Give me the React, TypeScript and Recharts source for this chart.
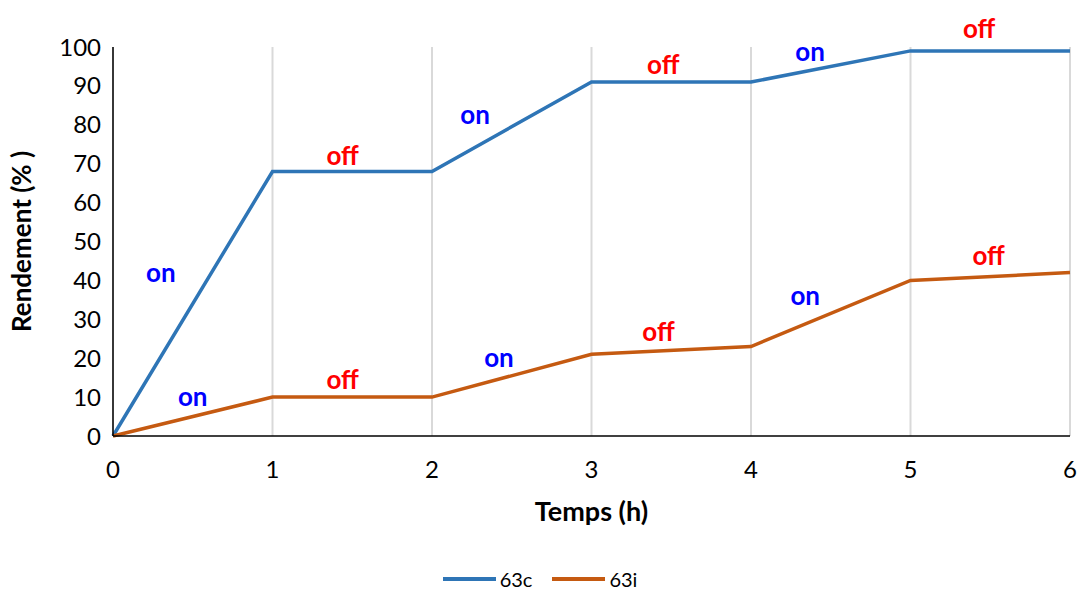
import { LineChart, Line, XAxis, YAxis, CartesianGrid, Legend, ReferenceDot } from "recharts";

const hours = [0, 1, 2, 3, 4, 5, 6];
const yield63c = [0, 68, 68, 91, 91, 99, 99];
const yield63i = [0, 10, 10, 21, 23, 40, 42];
const yTicks = [0, 10, 20, 30, 40, 50, 60, 70, 80, 90, 100];

// on/off annotations, in data coordinates
const notesX = [0.3, 1.44, 2.27, 3.45, 4.37, 5.43, 0.5, 1.44, 2.42, 3.42, 4.34, 5.49];
const notesY = [42, 72, 82.5, 95.5, 98.7, 104.6, 10, 14.4, 20, 26.7, 36, 46.3];
const notesText = ["on", "off", "on", "off", "on", "off", "on", "off", "on", "off", "on", "off"];

const BLUE = "#2E75B6";
const ORANGE = "#C55A11";
const FONT = "Lato, 'Open Sans', sans-serif";

const data = hours.map((h, i) => ({ h, c: yield63c[i], i: yield63i[i] }));

function LegendBox() {
  const items = [
    { name: "63c", color: BLUE },
    { name: "63i", color: ORANGE },
  ];
  return (
    <div style={{ display: "flex", justifyContent: "center", gap: 20, paddingTop: 18, paddingLeft: 10, height: 18, lineHeight: "18px", fontFamily: FONT, fontSize: 20, color: "#000" }}>
      {items.map((it) => (
        <div key={it.name} style={{ display: "flex", alignItems: "center", gap: 4 }}>
          <svg width={53} height={6}>
            <line x1={0} y1={3} x2={53} y2={3} stroke={it.color} strokeWidth={4} />
          </svg>
          <span>{it.name}</span>
        </div>
      ))}
    </div>
  );
}

export default function App() {
  return (
    <div style={{ position: "absolute", left: 0, top: 0, background: "#fff" }}>
      <LineChart width={1077} height={592} data={data} margin={{ top: 47, right: 7, left: 0, bottom: 0 }}>
        <CartesianGrid horizontal={false} stroke="#d9d9d9" strokeWidth={2} />
        <XAxis
          dataKey="h"
          type="number"
          domain={[0, 6]}
          ticks={hours}
          tickLine={false}
          axisLine={{ stroke: "#000", strokeWidth: 1.5 }}
          tickMargin={19}
          height={116}
          tick={{ fill: "#000", fontSize: 24, fontFamily: FONT }}
          label={{ value: "Temps (h)", position: "insideTop", offset: 66, fill: "#000", fontSize: 27, fontWeight: 700, fontFamily: FONT }}
        />
        <YAxis
          type="number"
          domain={[0, 100]}
          ticks={yTicks}
          tickLine={false}
          axisLine={{ stroke: "#000", strokeWidth: 1.5 }}
          tickMargin={6}
          width={113}
          tick={{ fill: "#000", fontSize: 24, fontFamily: FONT }}
          label={{ value: "Rendement (% )", angle: -90, position: "insideLeft", offset: 22, fill: "#000", fontSize: 26, fontWeight: 700, fontFamily: FONT, style: { textAnchor: "middle" } }}
        />
        <Legend verticalAlign="bottom" height={40} content={<LegendBox />} />
        <Line dataKey="c" name="63c" stroke={BLUE} strokeWidth={3.5} dot={false} isAnimationActive={false} />
        <Line dataKey="i" name="63i" stroke={ORANGE} strokeWidth={3.5} dot={false} isAnimationActive={false} />
        {notesText.map((t, k) => (
          <ReferenceDot
            key={k}
            x={notesX[k]}
            y={notesY[k]}
            r={0}
            ifOverflow="visible"
            label={{ value: t, position: "center", fill: t === "on" ? "#0000FF" : "#FF0000", fontSize: 26, fontWeight: 700, fontFamily: FONT }}
          />
        ))}
      </LineChart>
    </div>
  );
}
